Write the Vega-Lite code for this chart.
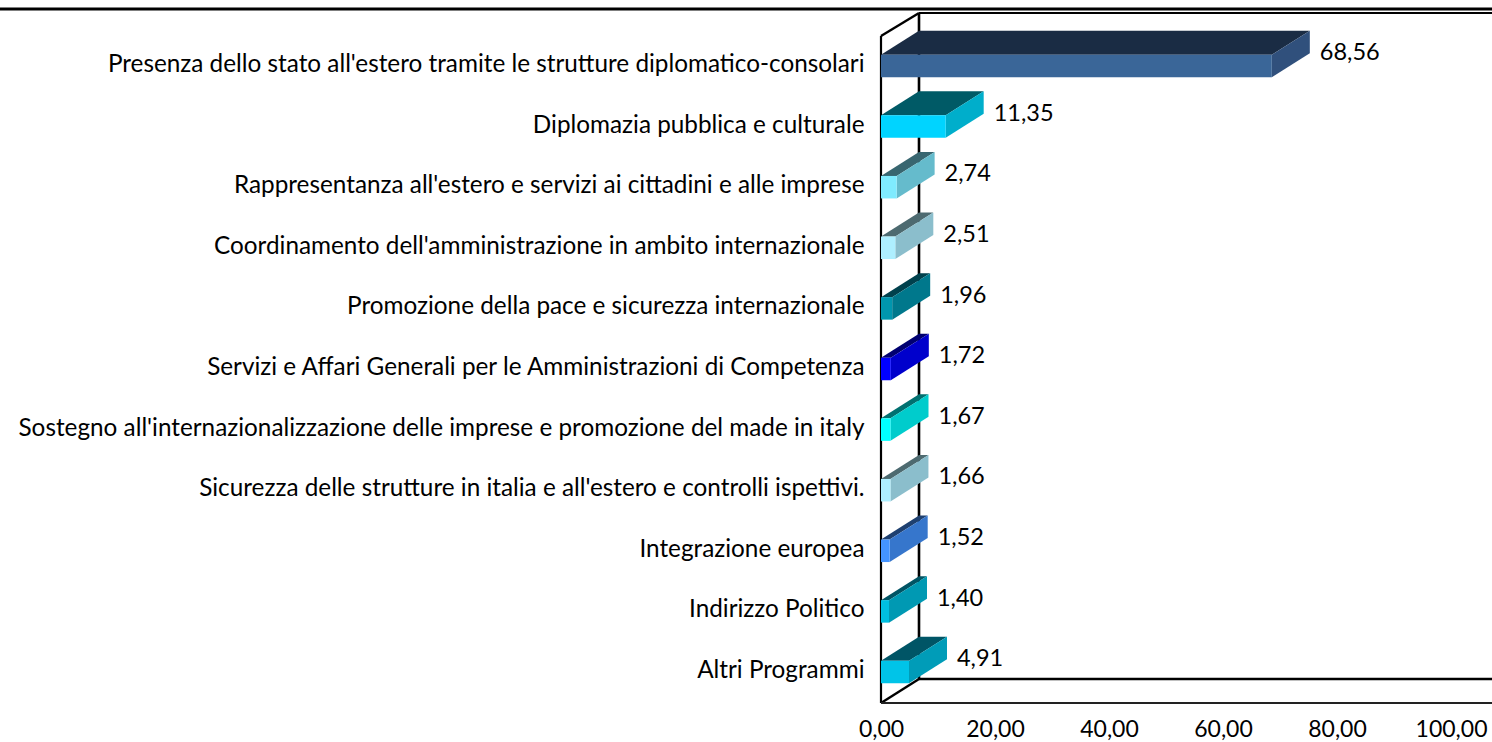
{
"$schema":"https://vega.github.io/schema/vega-lite/v6.json",
"width":611,"height":703,
"autosize":{"type":"none"},
"padding":{"left":881,"top":0,"right":0,"bottom":39},
"background":"white",
"config":{"view":{"stroke":null},"font":"Lato"},
"resolve":{"scale":{"y":"independent","color":"independent"}},
"data":{"values":[
{"programma":"Presenza dello stato all'estero tramite le strutture diplomatico-consolari","quota":68.56},
{"programma":"Diplomazia pubblica e culturale","quota":11.35},
{"programma":"Rappresentanza all'estero e servizi ai cittadini e alle imprese","quota":2.74},
{"programma":"Coordinamento dell'amministrazione in ambito internazionale","quota":2.51},
{"programma":"Promozione della pace e sicurezza internazionale","quota":1.96},
{"programma":"Servizi e Affari Generali per le Amministrazioni di Competenza","quota":1.72},
{"programma":"Sostegno all'internazionalizzazione delle imprese e promozione del made in italy","quota":1.67},
{"programma":"Sicurezza delle strutture in italia e all'estero e controlli ispettivi.","quota":1.66},
{"programma":"Integrazione europea","quota":1.52},
{"programma":"Indirizzo Politico","quota":1.40},
{"programma":"Altri Programmi","quota":4.91}
]},
"transform":[
{"window":[{"op":"row_number","as":"rn"}]},
{"calculate":"datum.rn-1","as":"i"},
{"calculate":"replace(format(datum.quota,'.2f'),'.',',')","as":"etichetta"}
],
"layer":[
{"data":{"values":[{}]},"mark":{"type":"rule","color":"#000","strokeWidth":2.8,"clip":false},
 "encoding":{"x":{"datum":-154.6,"type":"quantitative","scale":{"domain":[0,107.19],"nice":false,"zero":false},"axis":{"orient":"bottom","title":null,"domain":false,"ticks":false,"grid":false,"values":[0,20,40,60,80,100],"labelExpr":"replace(format(datum.value,'.2f'),'.',',')","labelFontSize":23,"labelColor":"#000","labelPadding":15,"labelFlush":false,"labelBound":false,"labelOverlap":false,"labelFont":"Lato"}},"x2":{"datum":107.19},
 "y":{"datum":-0.9406,"type":"quantitative","scale":{"domain":[-1.0891,10.5116],"reverse":true,"nice":false,"zero":false},"axis":null}}},
{"data":{"values":[{}]},"mark":{"type":"rule","color":"#000","strokeWidth":1.8,"clip":false},
 "encoding":{"x":{"datum":6.667,"type":"quantitative"},"x2":{"datum":107.19},
 "y":{"datum":-0.8746,"type":"quantitative","scale":{"domain":[-1.0891,10.5116],"reverse":true,"nice":false,"zero":false},"axis":null}}},
{"data":{"values":[{}]},"mark":{"type":"rule","color":"#000","strokeWidth":2.4,"clip":false},
 "encoding":{"x":{"datum":0,"type":"quantitative"},"x2":{"datum":6.667},
 "y":{"datum":-0.495,"type":"quantitative","scale":{"domain":[-1.0891,10.5116],"reverse":true,"nice":false,"zero":false},"axis":null},"y2":{"datum":-0.8746}}},
{"data":{"values":[{}]},"mark":{"type":"rule","color":"#000","strokeWidth":2.2,"clip":false},
 "encoding":{"x":{"datum":0,"type":"quantitative"},
 "y":{"datum":-0.495,"type":"quantitative","scale":{"domain":[-1.0891,10.5116],"reverse":true,"nice":false,"zero":false},"axis":null},"y2":{"datum":10.5116}}},
{"data":{"values":[{}]},"mark":{"type":"rule","color":"#000","strokeWidth":2.6,"clip":false},
 "encoding":{"x":{"datum":6.667,"type":"quantitative"},
 "y":{"datum":-0.8746,"type":"quantitative","scale":{"domain":[-1.0891,10.5116],"reverse":true,"nice":false,"zero":false},"axis":null},"y2":{"datum":10.115}}},
{"data":{"values":[{}]},"mark":{"type":"rule","color":"#000","strokeWidth":2.4,"clip":false},
 "encoding":{"x":{"datum":0,"type":"quantitative"},"x2":{"datum":6.667},
 "y":{"datum":10.5116,"type":"quantitative","scale":{"domain":[-1.0891,10.5116],"reverse":true,"nice":false,"zero":false},"axis":null},"y2":{"datum":10.115}}},
{"data":{"values":[{}]},"mark":{"type":"rule","color":"#000","strokeWidth":2.4,"clip":false},
 "encoding":{"x":{"datum":6.667,"type":"quantitative"},"x2":{"datum":107.19},
 "y":{"datum":10.115,"type":"quantitative","scale":{"domain":[-1.0891,10.5116],"reverse":true,"nice":false,"zero":false},"axis":null}}},
{"data":{"values":[{}]},"mark":{"type":"rule","color":"#222","strokeWidth":2,"clip":false},
 "encoding":{"x":{"datum":0,"type":"quantitative"},"x2":{"datum":107.19},
 "y":{"datum":10.5116,"type":"quantitative","scale":{"domain":[-1.0891,10.5116],"reverse":true,"nice":false,"zero":false},"axis":null}}},
{"transform":[
 {"calculate":"0","as":"a"},{"calculate":"1","as":"b"},
 {"fold":["a","b"],"as":["k","t"]},
 {"calculate":"datum.t*6.667","as":"x0"},
 {"calculate":"datum.quota+datum.t*6.667","as":"x1"},
 {"calculate":"datum.i-0.1856-datum.t*0.396","as":"yy"}],
 "mark":{"type":"area","orient":"horizontal","clip":false},
 "encoding":{"x":{"field":"x0","type":"quantitative","stack":null},"x2":{"field":"x1"},
 "y":{"field":"yy","type":"quantitative","scale":{"domain":[-1.0891,10.5116],"reverse":true,"nice":false,"zero":false},"axis":null},
 "color":{"field":"i","type":"ordinal","legend":null,"scale":{"range":["#1A2C44","#005A66","#386670","#4D6A70","#00414D","#000070","#007070","#4D6A70","#1E4070","#005464","#005566"]}}}},
{"transform":[
 {"calculate":"0","as":"a"},{"calculate":"1","as":"b"},
 {"fold":["a","b"],"as":["k","t"]},
 {"calculate":"datum.quota+datum.t*6.667","as":"xs"},
 {"calculate":"datum.i-0.1856-datum.t*0.396","as":"y0"},
 {"calculate":"datum.i+0.1856-datum.t*0.396","as":"y1"}],
 "mark":{"type":"area","orient":"vertical","clip":false},
 "encoding":{"x":{"field":"xs","type":"quantitative"},
 "y":{"field":"y0","type":"quantitative","stack":null,"scale":{"domain":[-1.0891,10.5116],"reverse":true,"nice":false,"zero":false},"axis":null},"y2":{"field":"y1"},
 "color":{"field":"i","type":"ordinal","legend":null,"scale":{"range":["#30507C","#00AECB","#65BBCC","#8BBECC","#00788C","#0000CC","#00CCCC","#8BBECC","#3676CC","#0099B3","#009CB8"]}}}},
{"mark":{"type":"bar","clip":false},
 "encoding":{"x":{"field":"quota","type":"quantitative"},
 "y":{"field":"programma","type":"nominal","sort":null,"scale":{"range":[35.7,702.3],"paddingInner":0.6287,"paddingOuter":0.3143},
  "axis":{"title":null,"domain":false,"ticks":false,"grid":false,"labelLimit":1000,"labelPadding":17,"labelFontSize":24.3,"labelOffset":-1,"labelColor":"#000","labelFont":"Lato"}},
 "color":{"field":"i","type":"ordinal","legend":null,"scale":{"range":["#3A6698","#00D4FF","#7FEBFF","#AEEFFF","#0096AE","#0000FF","#00FFFF","#AEEFFF","#4494FF","#00BFE0","#00C4E8"]}}}},
{"transform":[{"calculate":"datum.quota+6.667","as":"xl"}],
 "mark":{"type":"text","align":"left","baseline":"middle","dx":10,"dy":-12.7,"fontSize":23.5,"font":"Lato","color":"#000","clip":false},
 "encoding":{"x":{"field":"xl","type":"quantitative"},
 "y":{"field":"i","type":"quantitative","scale":{"domain":[-1.0891,10.5116],"reverse":true,"nice":false,"zero":false},"axis":null},
 "text":{"field":"etichetta","type":"nominal"}}}
]
}
